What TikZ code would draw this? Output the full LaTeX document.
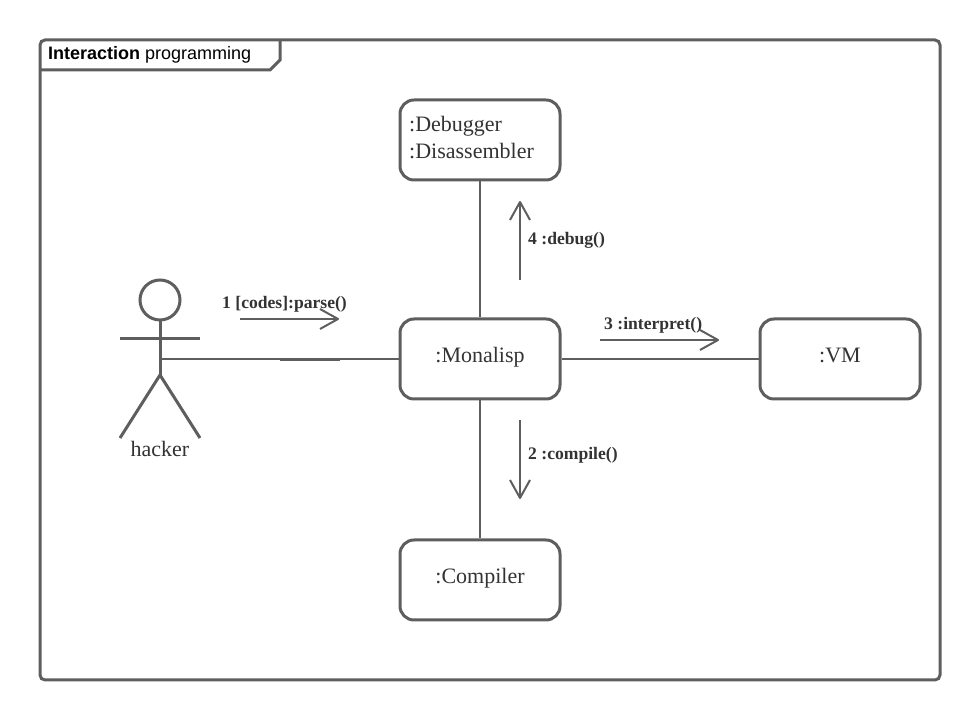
\documentclass[tikz,border=0pt]{standalone}
\usepackage{fontspec}
\setmainfont{Liberation Serif}
\newfontfamily\framefont{Liberation Sans}
\usetikzlibrary{arrows.meta}
\definecolor{umlgray}{HTML}{5E5E5E}
\definecolor{umltext}{HTML}{333333}
\pgfdeclarearrow{
  name=OpenV,
  setup code={\pgfarrowssettipend{0pt}\pgfarrowssetlineend{-2pt}\pgfarrowssetbackend{-20bp}\pgfarrowssetvisualbackend{-2pt}},
  drawing code={
    \pgfsetdash{}{0pt}\pgfsetlinewidth{2bp}\pgfsetroundjoin
    \pgfpathmoveto{\pgfqpoint{-20bp}{10bp}}
    \pgfpathlineto{\pgfqpoint{-2bp}{0bp}}
    \pgfpathlineto{\pgfqpoint{-20bp}{-10bp}}
    \pgfusepathqstroke
  }
}
\tikzset{
  objbox/.style={draw=umlgray,line width=3bp,rounded corners=14bp,minimum width=160bp,minimum height=80bp,inner sep=0pt,text=umltext,text height=15bp,text depth=7bp,font=\fontsize{22bp}{27bp}\selectfont},
  msglabel/.style={text=umltext,inner sep=0pt,font=\fontsize{17.6bp}{20bp}\selectfont\bfseries},
  msgarrow/.style={draw=umlgray,line width=2bp,-OpenV},
  assoc/.style={draw=umlgray,line width=2.5bp},
  figure line/.style={draw=umlgray,line width=3bp},
}
\begin{document}
\begin{tikzpicture}[x=1bp,y=1bp]
    \useasboundingbox (0,0) rectangle (980,720);
    %% frame
    \fill[white] (0,0) rectangle (980,720);
    \draw [figure line,rounded corners=5bp] (40,40) rectangle (940,680);
    \draw [figure line] (40,650) -- (270,650) -- (280,660) -- (280,680);
    \node (frametitle) at (48,660) [anchor=base west,inner sep=0pt,font=\framefont\fontsize{18bp}{20bp}\selectfont,text=black] {\textbf{Interaction} programming};
    %% objects
    \node (debugger) at (480,580) [objbox] {};
    \node (debuggertext) at (409,582) [anchor=west,align=left,inner sep=0pt,text=umltext,font=\fontsize{22bp}{27bp}\selectfont] {:Debugger\\:Disassembler};
    \node (monalisp) at (480,361) [objbox] {:Monalisp};
    \node (vm) at (840,361) [objbox] {:VM};
    \node (compiler) at (480,140) [objbox] {:Compiler};
    %% actor
    \node (head) at (160,420) [draw=umlgray,line width=3bp,circle,minimum size=40bp,inner sep=0pt] {};
    \coordinate (hip) at (160,345);
    \coordinate (armL) at (120,381);
    \coordinate (armR) at (200,381);
    \coordinate (footL) at (120,282);
    \coordinate (footR) at (200,282);
    \coordinate (hand) at (160,361);
    \node (hacker) at (160,271) [text=umltext,inner sep=0pt,font=\fontsize{22bp}{24bp}\selectfont] {hacker};
    \draw [figure line] (head) -- (hip);
    \draw [figure line] (armL) -- (armR);
    \draw [figure line] (footL) -- (hip) -- (footR);
    %% links
    \draw [assoc] (hand) -- (monalisp);
    \draw [assoc] (monalisp) -- (vm);
    \draw [assoc] (monalisp) -- (debugger);
    \draw [assoc] (monalisp) -- (compiler);
    \coordinate (stubA) at (280,360);
    \coordinate (stubB) at (340,360);
    \draw [figure line] (stubA) -- (stubB);
    %% messages
    \coordinate (m1a) at (240,401);
    \coordinate (m1b) at (340,401);
    \coordinate (m2a) at (520,300);
    \coordinate (m2b) at (520,220);
    \coordinate (m3a) at (600,380);
    \coordinate (m3b) at (720,380);
    \coordinate (m4a) at (520,440);
    \coordinate (m4b) at (520,520);
    \draw [msgarrow] (m1a) -- (m1b);
    \draw [msgarrow] (m2a) -- (m2b);
    \draw [msgarrow] (m3a) -- (m3b);
    \draw [msgarrow] (m4a) -- (m4b);
    \node (m1) at (222,416) [msglabel,anchor=west] {1 [codes]:parse()};
    \node (m2) at (528,265) [msglabel,anchor=west] {2 :compile()};
    \node (m3) at (604,395) [msglabel,anchor=west] {3 :interpret()};
    \node (m4) at (528,480) [msglabel,anchor=west] {4 :debug()};
    %
\end{tikzpicture}
\end{document}
